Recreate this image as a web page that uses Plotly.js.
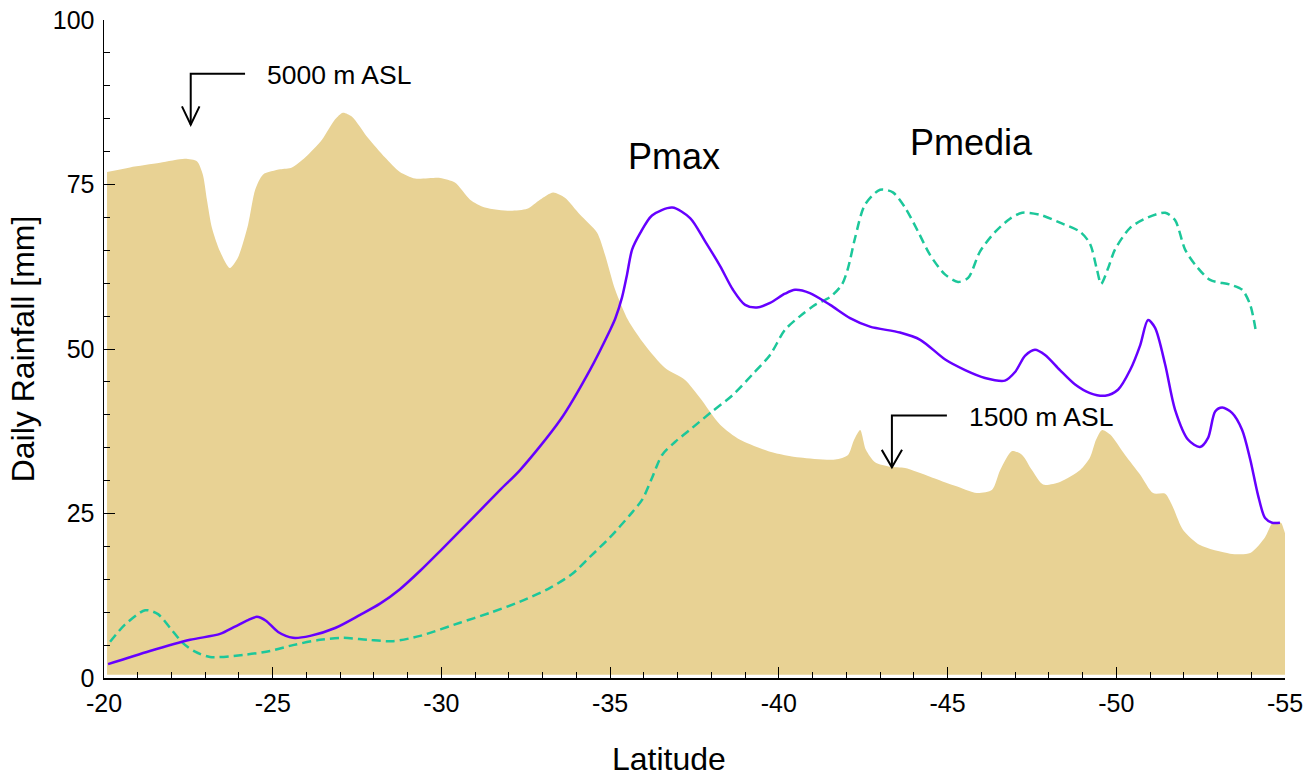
<!DOCTYPE html>
<html>
<head>
<meta charset="utf-8">
<script src="https://cdn.plot.ly/plotly-3.0.1.min.js"></script>
<style>
  html, body { margin: 0; padding: 0; background: #ffffff; }
  #chart { width: 1303px; height: 776px; }
</style>
</head>
<body>
<div id="chart"></div>
<script>
// Terrain profile (shaded relief), in the rainfall axis units
const terrainLat = [-20.09,-20.77,-21.66,-22.40,-22.76,-22.93,-23.05,-23.20,-23.44,-23.73,
  -23.97,-24.27,-24.48,-24.71,-25.22,-25.57,-25.96,-26.46,-26.85,-27.08,
  -27.35,-27.82,-28.33,-28.77,-29.22,-29.96,-30.40,-30.85,-31.29,-32.03,
  -32.54,-32.92,-33.31,-33.66,-34.11,-34.61,-34.85,-35.15,-35.53,-36.03,
  -36.63,-37.22,-37.66,-38.26,-38.85,-39.74,-40.63,-41.67,-42.05,-42.23,
  -42.41,-42.58,-42.85,-43.30,-43.74,-44.48,-45.22,-45.87,-46.32,-46.56,
  -46.91,-47.21,-47.50,-47.83,-48.33,-48.93,-49.22,-49.40,-49.58,-49.82,
  -50.26,-50.71,-51.09,-51.45,-51.65,-51.98,-52.48,-53.37,-53.97,-54.41,
  -54.65,-54.88,-54.97,-55.00];
const terrainLevel = [76.9,77.6,78.3,78.9,78.5,76.5,72.7,68.4,64.8,62.3,
  63.9,68.9,74.2,76.5,77.3,77.6,79.1,81.8,84.9,85.9,
  85.3,82.1,79.1,76.9,75.9,76.0,75.3,72.7,71.5,71.0,
  71.3,72.7,73.8,73.0,70.4,67.7,64.3,59.0,54.4,50.6,
  47.1,45.3,42.6,38.5,36.2,34.4,33.5,33.2,33.9,36.2,
  37.7,34.7,32.8,32.1,31.9,30.6,29.2,28.1,28.6,31.6,
  34.5,33.9,31.6,29.4,29.8,31.6,33.5,36.2,37.7,37.0,
  33.9,30.9,28.1,28.0,26.3,22.5,20.2,18.9,19.0,21.4,
  23.7,23.6,22.5,22.0];
// Floor of the shaded relief
const terrainBaseLat = [-20.09, -55.00];
const terrainBaseLevel = [0.5, 0.5];

// Maximum daily rainfall
const pmaxLat = [-20.12,-21.36,-22.55,-23.44,-23.88,-24.27,-24.53,-24.80,-25.16,-25.60,
  -26.11,-26.85,-27.59,-28.18,-28.77,-29.37,-29.96,-30.85,-31.74,-32.33,
  -33.52,-34.40,-35.00,-35.15,-35.35,-35.50,-35.65,-35.89,-36.24,-36.84,
  -37.37,-37.81,-38.26,-38.64,-39.00,-39.35,-39.74,-40.18,-40.48,-40.92,
  -41.52,-42.11,-42.70,-43.59,-44.19,-44.93,-45.52,-46.11,-46.70,-47.00,
  -47.30,-47.59,-47.89,-48.33,-48.78,-49.22,-49.67,-50.05,-50.41,-50.71,
  -50.94,-51.15,-51.45,-51.74,-52.13,-52.48,-52.72,-52.93,-53.14,-53.43,
  -53.73,-53.97,-54.20,-54.41,-54.62,-54.85];
const pmaxVal = [2.1,4.1,5.8,6.7,7.8,8.8,9.3,8.7,7.0,6.1,
  6.4,7.6,9.6,11.3,13.5,16.3,19.3,23.9,28.6,31.6,
  39.2,46.8,52.9,54.6,57.8,61.3,65.1,67.6,70.3,71.5,
  69.9,66.4,62.6,59.0,56.7,56.3,57.0,58.4,59.0,58.5,
  56.7,54.7,53.4,52.5,51.4,48.4,46.8,45.6,45.2,46.5,
  49.0,49.9,49.1,46.8,44.6,43.3,42.9,43.8,46.8,50.6,
  54.4,53.2,47.6,40.8,36.2,35.1,36.5,40.5,41.1,40.3,
  37.7,33.2,27.8,24.3,23.6,23.6];

// Mean daily rainfall
const pmediaLat = [-20.18,-20.62,-21.22,-21.60,-21.96,-22.34,-22.70,-23.14,-24.12,-24.92,
  -25.60,-26.40,-27.08,-27.82,-28.57,-29.37,-30.55,-31.44,-32.33,-33.22,
  -33.87,-34.40,-35.00,-35.59,-35.95,-36.24,-36.54,-36.93,-37.43,-38.02,
  -38.61,-39.21,-39.74,-40.18,-40.63,-41.07,-41.52,-41.87,-42.05,-42.26,-42.55,
  -43.00,-43.38,-43.74,-44.13,-44.48,-44.93,-45.31,-45.61,-45.96,-46.41,
  -46.85,-47.21,-47.74,-48.33,-48.93,-49.22,-49.43,-49.55,-49.76,-49.96,
  -50.41,-50.94,-51.45,-51.74,-52.04,-52.34,-52.78,-53.37,-53.73,-53.97,
  -54.14];
const pmediaVal = [5.5,8.1,10.3,9.7,7.6,5.3,4.0,3.2,3.5,4.1,
  5.0,5.8,6.1,5.8,5.6,6.4,8.4,9.9,11.6,13.7,
  15.8,18.4,21.4,24.8,27.1,30.4,33.9,35.9,38.0,40.5,
  42.9,46.1,49.1,52.9,55.0,56.7,57.9,59.8,62.3,66.9,71.9,
  74.2,73.8,71.5,67.8,64.3,61.3,60.2,60.8,64.8,67.8,
  69.8,70.7,70.4,69.2,67.8,66.0,62.0,59.9,62.3,65.1,
  68.4,70.0,70.7,69.6,65.1,62.8,60.5,59.8,59.0,56.7,
  52.6];

// Axis ticks
const xTickVals = [-20, -25, -30, -35, -40, -45, -50, -55];
const xTickLabels = ['-20', '-25', '-30', '-35', '-40', '-45', '-50', '-55'];
const yTickVals = [0, 25, 50, 75, 100];
const yTickLabels = ['0', '25', '50', '75', '100'];

const FONT = 'Liberation Sans, Arial, Helvetica, sans-serif';
const SAND = '#E8D294';
const VIOLET = '#6600FF';
const TEAL = '#1CC79A';

const traces = [
  {
    x: terrainBaseLat, y: terrainBaseLevel, type: 'scatter', mode: 'lines',
    line: { width: 0, color: SAND }, hoverinfo: 'skip', showlegend: false
  },
  {
    x: terrainLat, y: terrainLevel, type: 'scatter', mode: 'lines',
    fill: 'tonexty', fillcolor: SAND,
    line: { width: 0, color: SAND, shape: 'spline', smoothing: 0.7 },
    hoverinfo: 'skip', showlegend: false
  },
  {
    x: pmediaLat, y: pmediaVal, type: 'scatter', mode: 'lines', name: 'Pmedia',
    line: { width: 2.5, color: TEAL, dash: '9px,5px', shape: 'spline', smoothing: 0.8 },
    showlegend: false
  },
  {
    x: pmaxLat, y: pmaxVal, type: 'scatter', mode: 'lines', name: 'Pmax',
    line: { width: 2.5, color: VIOLET, shape: 'spline', smoothing: 0.8 },
    showlegend: false
  }
];

const arrowLine = { color: '#000000', width: 2 };

const layout = {
  width: 1303, height: 776,
  margin: { l: 104, r: 18, t: 20, b: 98, pad: 0 },
  paper_bgcolor: '#ffffff', plot_bgcolor: '#ffffff',
  font: { family: FONT, color: '#000000', size: 25 },
  showlegend: false,
  hovermode: false,
  xaxis: {
    range: [-20, -55], autorange: false,
    tickmode: 'array', tickvals: xTickVals, ticktext: xTickLabels,
    ticks: 'inside', ticklen: 11, tickwidth: 1, tickcolor: '#000000',
    minor: { tickmode: 'linear', tick0: 0, dtick: 1, ticks: 'inside', ticklen: 6, tickwidth: 1, tickcolor: '#000000', showgrid: false },
    showline: true, linecolor: '#000000', linewidth: 1.5,
    showgrid: false, zeroline: false,
    ticklabelstandoff: 2,
    ticklabeloverflow: 'allow',
    tickfont: { family: FONT, size: 25, color: '#000000' },
    title: { text: '' }
  },
  yaxis: {
    range: [0, 100], autorange: false,
    tickmode: 'array', tickvals: yTickVals, ticktext: yTickLabels,
    ticks: 'inside', ticklen: 11, tickwidth: 1, tickcolor: '#000000',
    minor: { tickmode: 'linear', tick0: 0, dtick: 5, ticks: 'inside', ticklen: 6, tickwidth: 1, tickcolor: '#000000', showgrid: false },
    showline: true, linecolor: '#000000', linewidth: 1.5,
    showgrid: false, zeroline: false,
    ticklabelstandoff: 3,
    ticklabeloverflow: 'allow',
    tickfont: { family: FONT, size: 25, color: '#000000' },
    title: { text: 'Daily Rainfall [mm]', font: { family: FONT, size: 32, color: '#000000' }, standoff: 8 }
  },
  annotations: [
    // horizontal axis caption
    { x: 0.478, y: -0.123, xref: 'paper', yref: 'paper', xanchor: 'center', yanchor: 'middle',
      text: 'Latitude', showarrow: false,
      font: { family: FONT, size: 32, color: '#000000' } },
    { x: -36.89, y: 79.2, xref: 'x', yref: 'y', text: 'Pmax', showarrow: false,
      font: { family: FONT, size: 36, color: '#000000' } },
    { x: -45.70, y: 81.4, xref: 'x', yref: 'y', text: 'Pmedia', showarrow: false,
      font: { family: FONT, size: 36, color: '#000000' } },
    { x: -26.96, y: 91.7, xref: 'x', yref: 'y', text: '5000 m ASL', showarrow: false,
      font: { family: FONT, size: 26.5, color: '#000000' } },
    { x: -47.77, y: 39.7, xref: 'x', yref: 'y', text: '1500 m ASL', showarrow: false,
      font: { family: FONT, size: 26.5, color: '#000000' } }
  ],
  shapes: [
    // bent pointer to the high Andes
    { type: 'path', xref: 'x', yref: 'y', line: arrowLine,
      path: 'M-24.18,91.85 L-22.57,91.85 L-22.57,84.09' },
    { type: 'path', xref: 'x', yref: 'y', line: arrowLine,
      path: 'M-22.83,86.88 L-22.57,84.09 L-22.31,86.88' },
    // bent pointer to the southern ranges
    { type: 'path', xref: 'x', yref: 'y', line: arrowLine,
      path: 'M-44.98,39.89 L-43.35,39.89 L-43.35,32.04' },
    { type: 'path', xref: 'x', yref: 'y', line: arrowLine,
      path: 'M-43.65,34.67 L-43.35,32.04 L-43.05,34.67' }
  ]
};

Plotly.newPlot('chart', traces, layout, { staticPlot: true, displayModeBar: false });
</script>
</body>
</html>
